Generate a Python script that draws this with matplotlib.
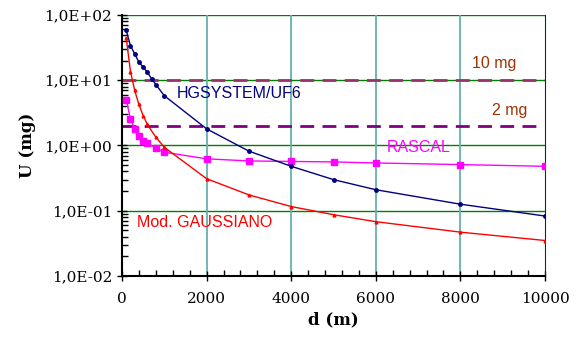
import numpy as np
import matplotlib
matplotlib.use('Agg')
from matplotlib import pyplot as plt
from matplotlib.ticker import FixedLocator, NullFormatter

# distances (m)
d_near = [100, 200, 300, 400, 500, 600, 700, 800, 1000]
d_far = [2000, 3000, 4000, 5000, 6000, 8000, 10000]

hgsystem = [57.9, 34.0, 25.4, 18.9, 15.9, 13.3, 10.5, 8.6, 5.8,
            1.8, 0.82, 0.48, 0.30, 0.21, 0.126, 0.083]
d_hg = d_near + d_far

d_gauss = [100, 200, 300, 400, 500, 600, 800, 1000] + d_far
gaussiano = [44.8, 13.6, 7.0, 4.25, 2.88, 2.1, 1.34, 0.94,
             0.31, 0.175, 0.116, 0.087, 0.068, 0.047, 0.035]

d_rascal = [100, 200, 300, 400, 500, 600, 800, 1000] + d_far
rascal = [5.0, 2.57, 1.8, 1.42, 1.19, 1.08, 0.92, 0.79,
          0.625, 0.58, 0.57, 0.56, 0.54, 0.51, 0.48]

limits = [10, 2]
limit_labels = ['10 mg', '2 mg']

fig = plt.figure(figsize=(5.87, 3.37), dpi=100)
ax = fig.add_axes([0.2078, 0.181, 0.7207, 0.7745])
ax.set_yscale('log')
ax.set_xlim(0, 10000)
ax.set_ylim(1e-2, 1e2)

# grid
for yv in [1e-1, 1e0, 1e1, 1e2]:
    ax.axhline(yv, color='#008000', lw=1.0, zorder=1)
for xv in [2000, 4000, 6000, 8000]:
    ax.axvline(xv, color='#66b0b0', lw=1.3, zorder=1)

# threshold lines
ax.axhline(limits[0], xmin=0, xmax=1, color='#993366', lw=2, ls=(0, (5, 3)), zorder=2)
ax.axhline(limits[1], xmin=0, xmax=0.99, color='#800080', lw=2, ls=(0, (5, 3)), zorder=2)

ax.plot(d_hg, hgsystem, color='#000080', lw=1, marker='o', ms=2.5, zorder=4)
ax.plot(d_gauss, gaussiano, color='#ff0000', lw=1, marker='^', ms=2, zorder=4)
ax.plot(d_rascal, rascal, color='#ff00ff', lw=1, marker='s', ms=4, zorder=3)

sans = 'Liberation Sans'
fs = 11.5
ax.text(1300, 6.3, 'HGSYSTEM/UF6', color='#000080', fontsize=fs, family=sans, va='center')
ax.text(8800, 18.0, limit_labels[0], color='#993300', fontsize=fs, family=sans, ha='center', va='center')
ax.text(9170, 3.44, limit_labels[1], color='#993300', fontsize=fs, family=sans, ha='center', va='center')
ax.text(7020, 0.93, 'RASCAL', color='#ff00ff', fontsize=fs, family=sans, ha='center', va='center')
ax.text(355, 0.066, 'Mod. GAUSSIANO', color='#ff0000', fontsize=fs, family=sans, va='center')

# ticks
serif = 'DejaVu Serif'
ax.set_xticks([0, 2000, 4000, 6000, 8000, 10000])
ax.xaxis.set_minor_locator(FixedLocator(np.arange(0, 10001, 400)))
ax.set_yticks([1e-2, 1e-1, 1e0, 1e1, 1e2])
ax.set_yticklabels(['1,0E-02', '1,0E-01', '1,0E+00', '1,0E+01', '1,0E+02'])
ax.yaxis.set_minor_formatter(NullFormatter())
ax.tick_params(which='major', direction='inout', length=7, width=1)
ax.tick_params(which='minor', direction='in', length=4, width=1)
ax.tick_params(axis='x', which='major', pad=8)
for lab in ax.get_xticklabels() + ax.get_yticklabels():
    lab.set_family(serif)
    lab.set_fontsize(11)

for s in ['left', 'bottom']:
    ax.spines[s].set_linewidth(1.5)
ax.spines['top'].set_visible(False)
ax.spines['right'].set_color('#1a2a2a')

ax.set_xlabel('d (m)', fontsize=12, family=serif, fontweight='bold', labelpad=4)
ax.set_ylabel('U (mg)', fontsize=12, family=serif, fontweight='bold', labelpad=6)

fig.savefig('out.png', dpi=100)
